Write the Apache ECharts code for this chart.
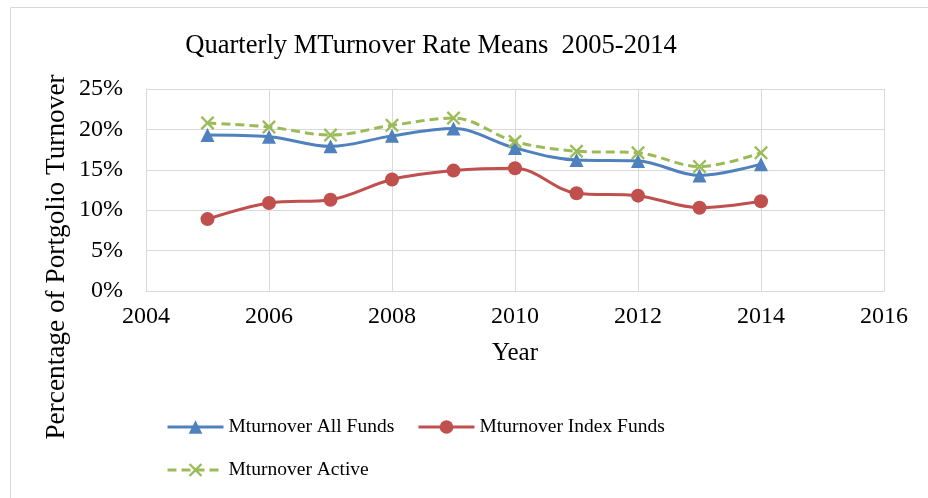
<!DOCTYPE html>
<html><head><meta charset="utf-8">
<script src="https://cdn.jsdelivr.net/npm/echarts@6/dist/echarts.min.js"></script>
<style>html,body{margin:0;padding:0;background:#fff}#c{width:928px;height:498px}</style>
</head><body><div id="c"></div>
<script>
const years = [2005, 2006, 2007, 2008, 2009, 2010, 2011, 2012, 2013, 2014];
const allFunds = [19.3, 19.1, 17.9, 19.2, 20.1, 17.7, 16.2, 16.1, 14.3, 15.7];
const indexFunds = [8.9, 10.9, 11.3, 13.8, 14.9, 15.2, 12.1, 11.8, 10.3, 11.1];
const active = [20.8, 20.3, 19.3, 20.5, 21.4, 18.5, 17.3, 17.1, 15.4, 17.1];
const seriesNames = ['Mturnover All Funds', 'Mturnover Index Funds', 'Mturnover Active'];
const titleText = 'Quarterly MTurnover Rate Means  2005-2014';
const yTitle = 'Percentage of Portgolio Turnover';
const xTitle = 'Year';

const FONT = 'Liberation Serif, serif';
const pair = arr => years.map((y, i) => [y, arr[i]]);
const xPath = 'path://M0,1.2 L1.2,0 L5,3.8 L8.8,0 L10,1.2 L6.2,5 L10,8.8 L8.8,10 L5,6.2 L1.2,10 L0,8.8 L3.8,5 Z';

const chart = echarts.init(document.getElementById('c'), null, {renderer: 'canvas'});
const legendText = {fontFamily: FONT, fontSize: 19.5, color: '#000'};
const legendBase = {padding: 0, itemWidth: 56, itemHeight: 17, itemGap: 0, textStyle: legendText,
  lineStyle: {width: 3}};
const tickRich = {t: {fontFamily: FONT, fontSize: 24, color: '#000'}};
chart.setOption({
  animation: false,
  backgroundColor: '#fff',
  textStyle: {fontFamily: FONT, color: '#000'},
  title: {
    text: titleText, left: 426, top: 28, textAlign: 'center',
    textStyle: {fontFamily: FONT, fontSize: 26.6, fontWeight: 'normal', color: '#000'}
  },
  graphic: [
    {type: 'rect', left: 8, top: 5, shape: {width: 1000, height: 1000},
     style: {fill: 'none', stroke: '#D9D9D9', lineWidth: 1}, silent: true, z: -10},
    {type: 'text', x: 57, y: 257, rotation: Math.PI / 2,
     style: {text: yTitle, fontFamily: FONT, fontSize: 27.3, fill: '#000', align: 'center', verticalAlign: 'middle'}}
  ],
  legend: [
    Object.assign({data: [seriesNames[0]], left: 166, top: 417}, legendBase),
    Object.assign({data: [seriesNames[1]], left: 417, top: 417}, legendBase),
    Object.assign({data: [seriesNames[2]], left: 166, top: 460}, legendBase)
  ],
  grid: {left: 146, right: 44, top: 89, bottom: 207, containLabel: false},
  xAxis: {
    type: 'value', min: 2004, max: 2016, interval: 2,
    name: xTitle, nameLocation: 'middle', nameGap: 50,
    nameTextStyle: {fontFamily: FONT, fontSize: 25, color: '#000'},
    axisLine: {show: true, lineStyle: {color: '#D9D9D9', width: 1}},
    axisTick: {show: false},
    axisLabel: {fontFamily: FONT, fontSize: 24, color: '#000', margin: 14,
      formatter: v => '{t|' + v + '}', rich: tickRich},
    splitLine: {show: true, lineStyle: {color: '#D9D9D9', width: 1}}
  },
  yAxis: {
    type: 'value', min: 0, max: 25, interval: 5,
    axisLine: {show: true, lineStyle: {color: '#D9D9D9', width: 1}},
    axisTick: {show: false},
    axisLabel: {fontFamily: FONT, fontSize: 24, color: '#000', margin: 23,
      formatter: v => '{t|' + v + '%}', rich: tickRich},
    splitLine: {show: true, lineStyle: {color: '#D9D9D9', width: 1}}
  },
  series: [
    {name: seriesNames[0], type: 'line', data: pair(allFunds), smooth: 0.35,
     symbol: 'triangle', symbolSize: 14, color: '#4F81BD',
     lineStyle: {width: 3, color: '#4F81BD'}, itemStyle: {color: '#4F81BD'}, z: 3},
    {name: seriesNames[1], type: 'line', data: pair(indexFunds), smooth: 0.35,
     symbol: 'circle', symbolSize: 14, color: '#C0504D',
     lineStyle: {width: 3, color: '#C0504D'}, itemStyle: {color: '#C0504D'}, z: 2},
    {name: seriesNames[2], type: 'line', data: pair(active), smooth: 0.35,
     symbol: xPath, symbolSize: 14, color: '#9BBB59',
     lineStyle: {width: 3, color: '#9BBB59', type: [9, 5]}, itemStyle: {color: '#9BBB59'}, z: 4}
  ]
});
</script></body></html>
